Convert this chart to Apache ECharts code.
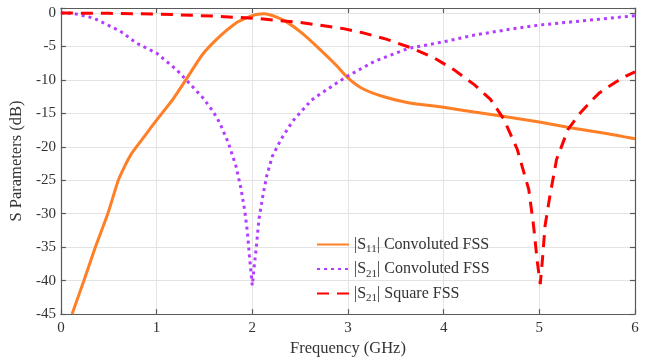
<!DOCTYPE html>
<html>
<head>
<meta charset="utf-8">
<script src="https://cdn.jsdelivr.net/npm/echarts@6/dist/echarts.min.js"></script>
<style>
  html, body { margin: 0; padding: 0; background: #fff; }
  #chart { width: 648px; height: 362px; }
</style>
</head>
<body>
<div id="chart"></div>
<script>
// |S11| of the convoluted FSS
var s11ConvFreq = [0.117, 0.24, 0.36, 0.49, 0.6, 0.67, 0.73, 0.79, 0.9, 1.0, 1.17, 1.31, 1.48, 1.66, 1.83, 1.92, 2.0, 2.06, 2.12, 2.18, 2.26, 2.35, 2.52, 2.69, 2.87, 3.0, 3.14, 3.35, 3.63, 4.0, 4.32, 4.6, 5.0, 5.34, 5.7, 6.0];
var s11ConvDb   = [-45, -40, -35, -30, -25, -22.8, -21.2, -20.0, -17.9, -16.0, -12.9, -9.9, -6.2, -3.5, -1.5, -0.85, -0.4, -0.18, -0.12, -0.25, -0.65, -1.25, -3.0, -5.2, -7.7, -9.7, -11.2, -12.4, -13.4, -14.1, -14.8, -15.4, -16.3, -17.2, -18.0, -18.8];

// |S21| of the convoluted FSS
var s21ConvFreq = [0, 0.13, 0.34, 0.62, 0.79, 1.0, 1.21, 1.31, 1.48, 1.59, 1.66, 1.75, 1.83, 1.88, 1.92, 1.95, 1.97, 2.0, 2.01, 2.04, 2.07, 2.11, 2.15, 2.21, 2.3, 2.42, 2.52, 2.62, 2.69, 2.9, 3.0, 3.28, 3.63, 4.0, 4.32, 4.66, 5.0, 5.5, 6.0];
var s21ConvDb   = [0, -0.05, -0.75, -2.7, -4.5, -6.0, -8.5, -10.0, -12.6, -14.7, -16.4, -19.4, -22.9, -26.1, -29.4, -32.8, -36.3, -40.7, -39.3, -35.3, -30.8, -27.4, -24.4, -21.4, -18.9, -16.2, -14.6, -13.0, -12.3, -10.3, -9.4, -7.2, -5.3, -4.3, -3.3, -2.5, -1.8, -1.1, -0.4];

// |S21| of the square FSS
var s21SquareFreq = [0, 0.5, 0.8, 1.2, 1.66, 2.07, 2.5, 2.94, 3.14, 3.4, 3.66, 3.9, 4.11, 4.32, 4.49, 4.63, 4.77, 4.89, 4.94, 4.98, 5.01, 5.03, 5.06, 5.11, 5.18, 5.3, 5.43, 5.56, 5.63, 5.8, 5.91, 6.0];
var s21SquareDb   = [0, -0.05, -0.1, -0.25, -0.5, -0.85, -1.4, -2.3, -2.9, -3.9, -5.2, -6.7, -8.5, -10.7, -12.9, -15.9, -20.4, -26.4, -31.8, -37.3, -40.5, -37.3, -31.8, -27.4, -21.9, -17.4, -14.9, -12.9, -11.9, -10.3, -9.4, -8.8];

var seriesNames = ['S11 Convoluted FSS', 'S21 Convoluted FSS', 'S21 Square FSS'];
var legendLabels = ['|S{sub|11}| Convoluted FSS', '|S{sub|21}| Convoluted FSS', '|S{sub|21}| Square FSS'];
var xTicks = [0, 1, 2, 3, 4, 5, 6];
var yTicks = [-45, -40, -35, -30, -25, -20, -15, -10, -5, 0];

function pairs(xs, ys) {
  return xs.map(function (x, i) { return [x, ys[i]]; });
}

var FONT = '"Liberation Serif", "Times New Roman", serif';
var TEXT = '#333333';
var FRAME = '#5a5a5a';
var GRIDC = '#e3e3e3';

var chart = echarts.init(document.getElementById('chart'), null, { renderer: 'canvas' });

var xMin = xTicks[0], xMax = xTicks[xTicks.length - 1];
var yMin = yTicks[0], yMax = 0.75;

function frameAxis(extra) {
  return Object.assign({
    axisLine: { show: true, onZero: false, lineStyle: { color: FRAME, width: 1.2 } },
    axisTick: { show: true, inside: true, length: 5, lineStyle: { color: FRAME, width: 1.2 } },
    splitLine: { show: false },
    axisLabel: { show: false }
  }, extra);
}

chart.setOption({
  animation: false,
  backgroundColor: '#ffffff',
  grid: { left: 57, right: 13, top: 8, bottom: 47, containLabel: false },
  xAxis: [
    {
      type: 'value', min: xMin, max: xMax, interval: 1, position: 'bottom',
      name: 'Frequency (GHz)', nameLocation: 'middle', nameGap: 25,
      nameTextStyle: { fontFamily: FONT, fontSize: 16.5, color: TEXT },
      axisLine: { show: true, onZero: false, lineStyle: { color: FRAME, width: 1.2 } },
      axisTick: { show: true, inside: true, length: 5, lineStyle: { color: FRAME, width: 1.2 } },
      axisLabel: { fontFamily: FONT, fontSize: 15, color: TEXT, margin: 6 },
      splitLine: { show: true, lineStyle: { color: GRIDC, width: 1 } }
    },
    frameAxis({ type: 'value', min: xMin, max: xMax, interval: 1, position: 'top' })
  ],
  yAxis: [
    {
      type: 'value', min: yMin, max: yMax, interval: 5, position: 'left',
      name: 'S Parameters (dB)', nameLocation: 'middle', nameGap: 28,
      nameTextStyle: { fontFamily: FONT, fontSize: 16.5, color: TEXT },
      axisLine: { show: true, onZero: false, lineStyle: { color: FRAME, width: 1.2 } },
      axisTick: { show: true, inside: true, length: 5, lineStyle: { color: FRAME, width: 1.2 } },
      axisLabel: {
        fontFamily: FONT, fontSize: 15, color: TEXT, margin: 5,
        formatter: function (v) { return yTicks.indexOf(v) >= 0 ? String(v) : ''; }
      },
      splitLine: { show: true, lineStyle: { color: GRIDC, width: 1 } }
    },
    frameAxis({ type: 'value', min: yMin, max: yMax, interval: 5, position: 'right' })
  ],
  legend: {
    show: true,
    orient: 'vertical',
    left: 311, top: 229,
    itemWidth: 32, itemHeight: 14, itemGap: 3.5,
    data: seriesNames,
    itemStyle: { opacity: 0 },
    formatter: function (name) { return legendLabels[seriesNames.indexOf(name)]; },
    textStyle: {
      fontFamily: FONT, fontSize: 16, color: TEXT, lineHeight: 21,
      rich: {
        sub: { fontFamily: FONT, fontSize: 11, color: TEXT, lineHeight: 11, verticalAlign: 'bottom' }
      }
    }
  },
  series: [
    {
      name: seriesNames[0], type: 'line', data: pairs(s11ConvFreq, s11ConvDb),
      showSymbol: false, symbol: 'none', smooth: 0.2,
      lineStyle: { color: '#FF7F27', width: 3 }, itemStyle: { color: '#FF7F27' }
    },
    {
      name: seriesNames[1], type: 'line', data: pairs(s21ConvFreq, s21ConvDb),
      showSymbol: false, symbol: 'none',
      lineStyle: { color: '#B23CFF', width: 3, type: [3, 4] }, itemStyle: { color: '#B23CFF' }
    },
    {
      name: seriesNames[2], type: 'line', data: pairs(s21SquareFreq, s21SquareDb),
      showSymbol: false, symbol: 'none',
      lineStyle: { color: '#FF0000', width: 3, type: [12, 8] }, itemStyle: { color: '#FF0000' }
    }
  ]
});
</script>
</body>
</html>
